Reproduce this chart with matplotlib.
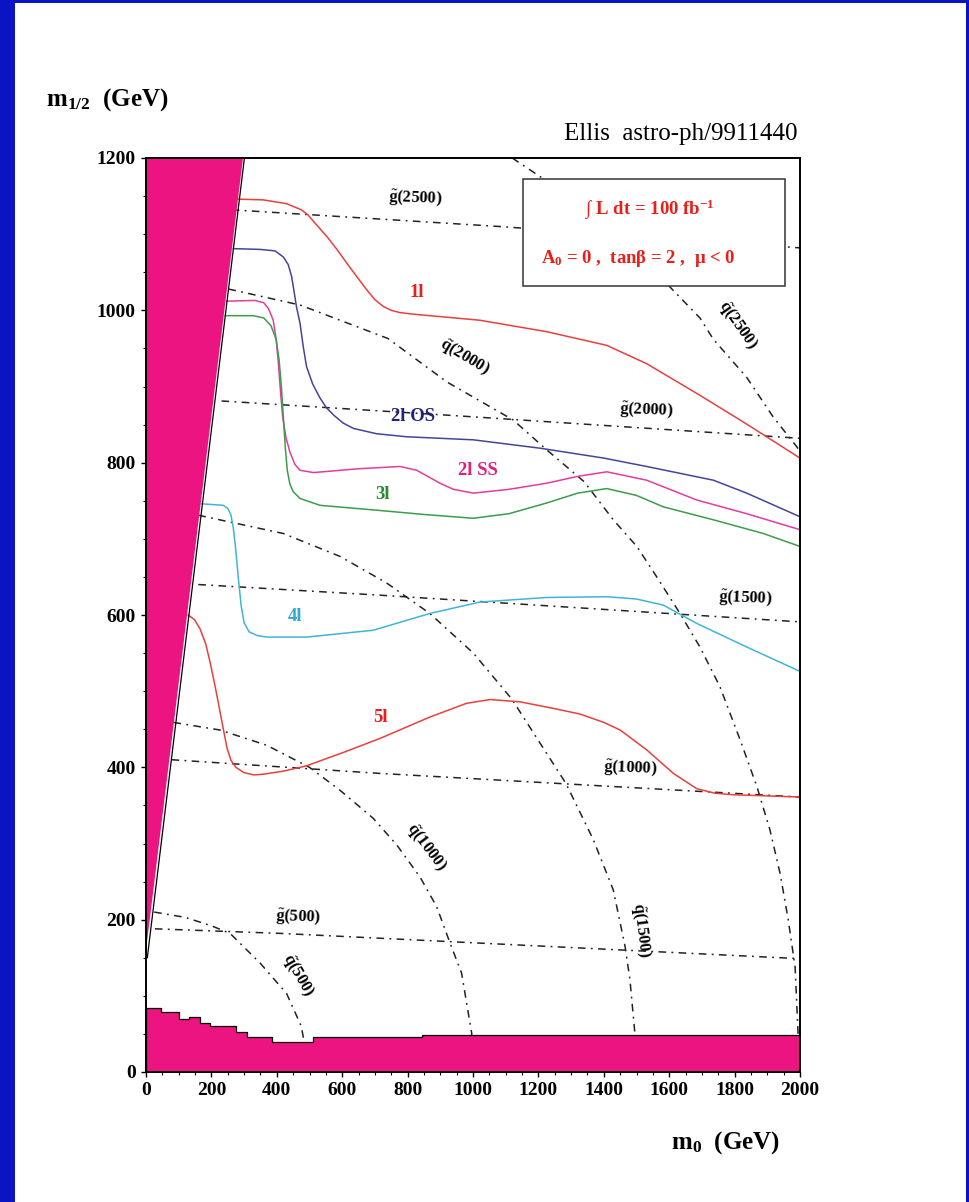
import matplotlib
matplotlib.use("Agg")
import matplotlib.pyplot as plt
from matplotlib.patches import Rectangle, Polygon
from matplotlib.ticker import MultipleLocator

plt.rcParams['font.family'] = ['Liberation Serif', 'DejaVu Serif']
plt.rcParams['mathtext.fontset'] = 'custom'
plt.rcParams['mathtext.rm'] = 'Liberation Serif:bold'
plt.rcParams['mathtext.it'] = 'Liberation Serif:bold'
plt.rcParams['mathtext.bf'] = 'Liberation Serif:bold'

# ---- excluded regions -------------------------------------------------
wedge_m0 = [0, 0, 297]
wedge_mhalf = [160, 1200, 1200]

lep_m0_edges = [0, 45, 100, 130, 165, 195, 275, 310, 385, 510, 845, 2000]
lep_mhalf = [84, 79, 70, 72, 64, 61, 53, 46, 39, 46, 49]

# ---- gluino mass contours (dash-dot) ---------------------------------
g500_m0 = [27, 410, 1990, 2000]
g500_mh = [188, 182, 149, 149]
g1000_m0 = [78, 716, 2000]
g1000_mh = [410, 392, 361]
g1500_m0 = [160, 716, 2000]
g1500_mh = [640, 626, 591]
g2000_m0 = [231, 935, 2000]
g2000_mh = [881, 862, 832]
g2500_m0 = [262, 1083, 2000]
g2500_mh = [1132, 1110, 1082]

# ---- squark mass contours (dash-dot) ---------------------------------
q500_m0 = [25, 120, 200, 257, 349, 430, 475, 500]
q500_mh = [210, 203, 192, 182, 143, 103, 60, 0]
q1000_m0 = [84, 226, 369, 500, 593, 695, 767, 838, 889, 930, 965, 996, 1000]
q1000_mh = [459, 449, 429, 400, 370, 333, 298, 256, 217, 169, 130, 51, 0]
q1500_m0 = [160, 420, 593, 736, 868, 1001, 1118, 1284, 1368, 1429, 1465, 1480, 1495, 1500]
q1500_mh = [731, 707, 677, 642, 602, 550, 490, 379, 305, 239, 165, 121, 51, 0]
q2000_m0 = [252, 471, 740, 920, 1123, 1225, 1340, 1429, 1501, 1562, 1633, 1694,
            1755, 1817, 1868, 1908, 1939, 1964, 1985, 1994, 2000]
q2000_mh = [1028, 1007, 963, 906, 856, 817, 775, 725, 690, 650, 602, 558,
            506, 436, 375, 318, 261, 200, 138, 51, 0]
q2500_m0 = [1120, 1214, 1300, 1400, 1500, 1597, 1694, 1735, 1837, 1918, 1990, 2000]
q2500_mh = [1200, 1173, 1145, 1111, 1074, 1033, 990, 962, 912, 860, 821, 814]

# ---- multilepton reach contours --------------------------------------
l1_m0 = [282, 359, 430, 475, 496, 520, 553, 584, 614, 645, 675, 700, 726, 750, 777,
         817, 1021, 1225, 1409, 1531, 1684, 1817, 1898, 2000]
l1_mh = [1146, 1145, 1140, 1132, 1125, 1113, 1097, 1080, 1062, 1044, 1027, 1014, 1005,
         1000, 997, 995, 987, 972, 954, 930, 891, 856, 834, 806]
l2os_m0 = [267, 349, 395, 420, 435, 445, 452, 460, 471, 481, 491, 510, 532, 552, 575,
           603, 634, 705, 797, 1001, 1205, 1400, 1531, 1735, 1837, 2000]
l2os_mh = [1081, 1080, 1078, 1070, 1060, 1045, 1027, 1005, 983, 952, 926, 903, 885, 872,
           862, 852, 845, 838, 834, 830, 819, 806, 795, 777, 760, 729]
l2ss_m0 = [247, 333, 360, 375, 389, 398, 405, 412, 418, 428, 440, 455, 471, 512, 650,
           777, 828, 870, 899, 940, 1001, 1110, 1225, 1320, 1409, 1531, 1684, 1837, 2000]
l2ss_mh = [1012, 1013, 1010, 1002, 987, 962, 930, 890, 860, 833, 814, 798, 790, 787, 792,
           795, 790, 780, 773, 765, 760, 765, 773, 782, 788, 777, 751, 733, 712]
l3_m0 = [242, 328, 360, 382, 398, 407, 414, 420, 426, 432, 440, 450, 471, 532, 695,
         850, 1001, 1110, 1225, 1320, 1409, 1500, 1582, 1735, 1888, 2000]
l3_mh = [993, 993, 990, 980, 962, 935, 900, 860, 820, 790, 772, 762, 753, 744, 738,
         732, 727, 733, 747, 760, 766, 757, 742, 725, 707, 690]
l4_m0 = [170, 236, 250, 260, 267, 274, 282, 291, 300, 315, 340, 369, 491, 695, 868,
         1021, 1225, 1409, 1500, 1582, 1684, 1837, 2000]
l4_mh = [746, 744, 740, 731, 714, 688, 650, 612, 590, 578, 573, 571, 571, 580, 602,
         617, 623, 624, 621, 613, 589, 558, 526]
l5_m0 = [129, 148, 165, 182, 196, 212, 226, 237, 248, 260, 275, 300, 330, 359, 420,
         491, 600, 716, 868, 980, 1052, 1144, 1250, 1327, 1400, 1450, 1531, 1613, 1684,
         1740, 1796, 2000]
l5_mh = [600, 594, 582, 563, 538, 505, 474, 449, 425, 409, 400, 393, 390, 391, 395,
         402, 419, 438, 466, 484, 489, 486, 477, 470, 459, 449, 423, 392, 372,
         366, 364, 361]

W, H = 970, 1202
fig = plt.figure(figsize=(W / 100, H / 100), dpi=100)
fig.patch.set_facecolor('#0a14c4')
fig.patches.append(Rectangle((15 / W, 0), (966 - 15) / W, (1199) / H,
                             transform=fig.transFigure, facecolor='white',
                             edgecolor='none', zorder=-5))

ax = fig.add_axes([146 / W, 1 - 1072 / H, (800 - 146) / W, (1072 - 158) / H])
ax.set_zorder(1)
ax.set_xlim(0, 2000)
ax.set_ylim(0, 1200)

pink = '#ec1480'
dd = dict(color='#222222', lw=1.1, ls=(0, (5, 3.5, 1.2, 3.5)), zorder=2)

for xs, ys in [(g500_m0, g500_mh), (g1000_m0, g1000_mh), (g1500_m0, g1500_mh),
               (g2000_m0, g2000_mh), (g2500_m0, g2500_mh),
               (q500_m0, q500_mh), (q1000_m0, q1000_mh), (q1500_m0, q1500_mh),
               (q2000_m0, q2000_mh), (q2500_m0, q2500_mh)]:
    ax.plot(xs, ys, **dd)

curves = [
    (l1_m0, l1_mh, '#e8403c'),
    (l2os_m0, l2os_mh, '#44449c'),
    (l2ss_m0, l2ss_mh, '#e43c9c'),
    (l3_m0, l3_mh, '#3c9c4c'),
    (l4_m0, l4_mh, '#40b4d8'),
    (l5_m0, l5_mh, '#e8403c'),
]
for xs, ys, c in curves:
    ax.plot(xs, ys, color=c, lw=1.1, zorder=3, solid_joinstyle='round')

# excluded wedge (no EWSB / charged LSP)
ax.add_patch(Polygon(list(zip(wedge_m0, wedge_mhalf)), closed=True,
                     facecolor=pink, edgecolor='none', zorder=4))
ax.plot([4, 301], [150, 1200], color='black', lw=0.9, zorder=5)

# LEP bound, stepped
sx, sy = [0], [0]
for i, h in enumerate(lep_mhalf):
    sx += [lep_m0_edges[i], lep_m0_edges[i + 1]]
    sy += [h, h]
sx += [2000]
sy += [0]
ax.add_patch(Polygon(list(zip(sx, sy)), closed=True, facecolor=pink,
                     edgecolor='black', lw=0.9, zorder=4))

# info box
ax.add_patch(Rectangle((1152, 1032), 1954 - 1152, 1173 - 1032, facecolor='white',
                       edgecolor='#333333', lw=1.1, zorder=6))
red = '#e8201c'
ax.text(1541, 1132, '∫ L dt = 100 fb$^{-1}$', color=red, fontsize=13.5,
        fontweight='bold', ha='center', va='center', zorder=7)
ax.text(1505, 1068, 'A$_0$ = 0 ,  tanβ = 2 ,  μ < 0', color=red, fontsize=13.5,
        fontweight='bold', ha='center', va='center', zorder=7)

# curve labels
lab = dict(fontsize=13.5, fontweight='bold', ha='center', va='center', zorder=7)
ax.text(828, 1024, '1l', color='#e8201c', **lab)
ax.text(817, 860, '2l OS', color='#22227a', **lab)
ax.text(1016, 790, '2l SS', color='#e0207c', **lab)
ax.text(724, 758, '3l', color='#2a8a3a', **lab)
ax.text(456, 598, '4l', color='#30a8d0', **lab)
ax.text(716, 466, '5l', color='#e8201c', **lab)

# mass contour labels
ml = dict(fontsize=12, fontweight='bold', ha='center', va='center', zorder=7,
          rotation_mode='anchor')
for x, y, t, r in [(823, 1147, r'$\tilde{\mathrm{g}}$(2500)', -2),
                   (1531, 869, r'$\tilde{\mathrm{g}}$(2000)', -2),
                   (1832, 622, r'$\tilde{\mathrm{g}}$(1500)', -2),
                   (1480, 399, r'$\tilde{\mathrm{g}}$(1000)', -2),
                   (466, 203, r'$\tilde{\mathrm{g}}$(500)', -2),
                   (1811, 981, r'$\tilde{\mathrm{q}}$(2500)', -55),
                   (975, 939, r'$\tilde{\mathrm{q}}$(2000)', -31),
                   (858, 296, r'$\tilde{\mathrm{q}}$(1000)', -53),
                   (1516, 186, r'$\tilde{\mathrm{q}}$(1500)', -83),
                   (466, 127, r'$\tilde{\mathrm{q}}$(500)', -60)]:
    ax.text(x, y, t, rotation=r, **ml)

for s in ax.spines.values():
    s.set_linewidth(1.4)
    s.set_zorder(8)
ax.xaxis.set_major_locator(MultipleLocator(200))
ax.xaxis.set_minor_locator(MultipleLocator(50))
ax.yaxis.set_major_locator(MultipleLocator(200))
ax.yaxis.set_minor_locator(MultipleLocator(50))
ax.tick_params(which='both', direction='out', top=False, right=False)
ax.tick_params(which='major', length=3.5, width=1, labelsize=14, pad=4)
ax.tick_params(which='minor', length=2, width=0.8)
for lbl in ax.get_xticklabels() + ax.get_yticklabels():
    lbl.set_fontweight('bold')

fig.text(46 / W, 1 - 100 / H, 'm$_{1/2}$  (GeV)', fontsize=18, fontweight='bold',
         ha='left', va='center')
fig.text(798 / W, 1 - 134 / H, 'Ellis  astro-ph/9911440', fontsize=18,
         ha='right', va='center')
fig.text(726 / W, 1 - 1143 / H, 'm$_0$  (GeV)', fontsize=18, fontweight='bold',
         ha='center', va='center')

fig.savefig('out.png', dpi=100, facecolor=fig.get_facecolor())
